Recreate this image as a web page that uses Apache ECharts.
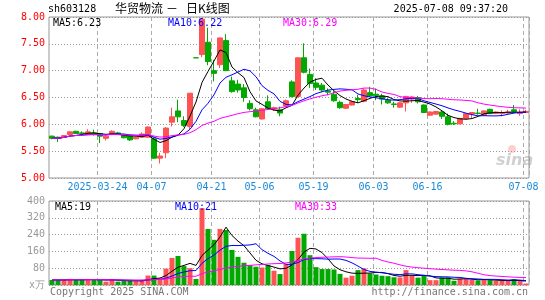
<!DOCTYPE html>
<html>
<head>
<meta charset="UTF-8">
<script src="https://cdn.jsdelivr.net/npm/echarts@6/dist/echarts.min.js"></script>
<style>
html, body { margin: 0; padding: 0; background: #fff; }
#chart { width: 545px; height: 300px; }
</style>
</head>
<body>
<div id="chart"></div>
<script>
// ---- data ----
const dates = [
  '2025-03-12','2025-03-13','2025-03-14','2025-03-17','2025-03-18','2025-03-19','2025-03-20','2025-03-21',
  '2025-03-24','2025-03-25','2025-03-26','2025-03-27','2025-03-28','2025-03-31','2025-04-01','2025-04-02',
  '2025-04-03','2025-04-07','2025-04-08','2025-04-09','2025-04-10','2025-04-11','2025-04-14','2025-04-15',
  '2025-04-16','2025-04-17','2025-04-18','2025-04-21','2025-04-22','2025-04-23','2025-04-24','2025-04-25',
  '2025-04-28','2025-04-29','2025-04-30','2025-05-06','2025-05-07','2025-05-08','2025-05-09','2025-05-12',
  '2025-05-13','2025-05-14','2025-05-15','2025-05-16','2025-05-19','2025-05-20','2025-05-21','2025-05-22',
  '2025-05-23','2025-05-26','2025-05-27','2025-05-28','2025-05-29','2025-05-30','2025-06-03','2025-06-04',
  '2025-06-05','2025-06-06','2025-06-09','2025-06-10','2025-06-11','2025-06-12','2025-06-13','2025-06-16',
  '2025-06-17','2025-06-18','2025-06-19','2025-06-20','2025-06-23','2025-06-24','2025-06-25','2025-06-26',
  '2025-06-27','2025-06-30','2025-07-01','2025-07-02','2025-07-03','2025-07-04','2025-07-07','2025-07-08'
];

const openP = [
  5.78,5.76,5.76,5.81,5.87,5.84,5.81,5.84, 5.83,5.74,5.81,5.84,5.79,5.79,5.73,5.76,
  5.76,5.73,5.37,5.47,6.04,6.25,6.07,5.96, 7.24,7.30,7.53,7.00,7.11,7.56,6.81,6.75,
  6.68,6.39,6.27,6.10,6.42,6.28,6.27,6.34, 6.79,6.52,7.24,6.93,6.77,6.73,6.62,6.56,
  6.41,6.30,6.36,6.48,6.43,6.59,6.56,6.53, 6.45,6.38,6.32,6.40,6.47,6.50,6.36,6.17,
  6.19,6.23,6.14,6.02,6.01,6.11,6.19,6.21, 6.17,6.28,6.20,6.20,6.21,6.27,6.20,6.22
];
const closeP = [
  5.74,5.74,5.79,5.86,5.83,5.83,5.86,5.82, 5.78,5.78,5.87,5.81,5.75,5.71,5.76,5.82,
  5.95,5.37,5.41,5.93,6.14,6.14,5.98,6.58, 7.24,7.96,7.17,6.95,7.61,7.00,6.61,6.64,
  6.50,6.29,6.14,6.29,6.29,6.31,6.21,6.44, 6.52,7.24,6.97,6.76,6.69,6.64,6.60,6.44,
  6.31,6.37,6.42,6.46,6.64,6.53,6.54,6.47, 6.40,6.37,6.40,6.52,6.51,6.42,6.22,6.23,
  6.24,6.15,6.00,6.01,6.11,6.20,6.22,6.20, 6.25,6.20,6.23,6.22,6.23,6.24,6.22,6.24
];
const lowP = [
  5.72,5.67,5.75,5.80,5.82,5.79,5.80,5.79, 5.65,5.70,5.80,5.80,5.74,5.69,5.72,5.75,
  5.75,5.36,5.27,5.37,5.96,6.04,5.95,5.90, 7.24,7.25,7.10,6.80,7.05,7.00,6.59,6.59,
  6.42,6.26,6.13,6.09,6.27,6.25,6.15,6.32, 6.50,6.50,6.95,6.68,6.64,6.60,6.54,6.42,
  6.29,6.29,6.35,6.40,6.41,6.51,6.45,6.37, 6.38,6.31,6.31,6.24,6.40,6.39,6.21,6.16,
  6.18,6.10,5.98,5.99,6.00,6.10,6.12,6.18, 6.16,6.19,6.19,6.15,6.20,6.22,6.16,6.21
];
const highP = [
  5.79,5.77,5.80,5.87,5.88,5.87,5.91,5.90, 5.84,5.79,5.89,5.86,5.80,5.80,5.77,5.85,
  5.96,5.76,5.47,5.95,6.31,6.46,6.15,6.58, 7.24,7.96,7.80,7.20,7.62,7.68,6.89,6.83,
  6.75,6.45,6.31,6.30,6.54,6.33,6.33,6.46, 6.82,7.25,7.51,7.04,6.86,6.77,6.67,6.62,
  6.44,6.38,6.44,6.55,6.67,6.70,6.67,6.57, 6.50,6.42,6.41,6.53,6.53,6.53,6.37,6.24,
  6.25,6.26,6.20,6.06,6.12,6.21,6.23,6.29, 6.26,6.29,6.24,6.26,6.27,6.36,6.28,6.27
];
// 成交量 (万手)
const volume = [
  24,24,24,29,24,24,29,24, 27,16,29,16,19,19,19,24,
  45,45,32,78,129,138,90,80, 29,366,267,215,267,262,167,134,
  106,94,87,83,94,68,52,100, 162,225,244,142,85,76,76,74,
  53,35,44,71,79,55,50,44, 42,37,36,71,44,35,44,23,
  23,36,36,20,29,29,25,22, 25,23,20,20,20,28,20,7
];

const labelDates = ['2025-03-24','2025-04-07','2025-04-21','2025-05-06','2025-05-19','2025-06-03','2025-06-16','2025-07-08'];
const priceTicks = { min: 5, max: 8, step: 0.5 };
const volTicks = { min: 0, max: 400, step: 80 };

const maPriceText = ['MA5:6.23', 'MA10:6.22', 'MA30:6.29'];
const maVolText = ['MA5:19', 'MA10:21', 'MA30:33'];

// ---- helpers ----
const RED = '#ff5252';
const GREEN = '#00a800';
const MONO = '"DejaVu Sans Mono", monospace';

function movingAvg(arr, n) {
  return arr.map((_, i) => {
    const s = Math.max(0, i - n + 1);
    let sum = 0;
    for (let j = s; j <= i; j++) sum += arr[j];
    return +(sum / (i - s + 1)).toFixed(3);
  });
}

function isUp(i) {
  if (closeP[i] !== openP[i]) return closeP[i] > openP[i];
  return false;
}

const labelIdx = labelDates.map(d => dates.indexOf(d));

const kData = dates.map((d, i) => {
  const item = { value: [openP[i], closeP[i], lowP[i], highP[i]] };
  if (openP[i] === closeP[i]) {
    item.itemStyle = { color: GREEN, color0: GREEN, borderColor: GREEN, borderColor0: GREEN };
  }
  return item;
});

const volData = volume.map((v, i) => ({
  value: v,
  itemStyle: { color: isUp(i) ? RED : GREEN }
}));

const maLine = (name, data, color, xi, yi) => ({
  name, type: 'line', data, xAxisIndex: xi, yAxisIndex: yi,
  symbol: 'none', smooth: false, silent: true,
  lineStyle: { width: 1, color }
});

const xAxisBase = (gi, showLabel) => ({
  type: 'category', gridIndex: gi, data: dates, boundaryGap: true,
  axisLine: { show: false }, axisTick: { show: false },
  axisLabel: {
    show: showLabel,
    interval: (i) => labelIdx.includes(i),
    formatter: (v) => v === labelDates[0] ? v : v.slice(5),
    color: '#1a8ad8', fontFamily: MONO, fontSize: 10, margin: 4,
    padding: [0, 5, 0, 0]
  },
  splitLine: {
    show: true,
    interval: (i) => labelIdx.includes(i),
    lineStyle: { color: '#aaaaaa', type: [4, 3], width: 1 }
  }
});

const chart = echarts.init(document.getElementById('chart'), null, { renderer: 'canvas' });

chart.setOption({
  animation: false,
  backgroundColor: '#ffffff',
  grid: [
    { left: 49, right: 16, top: 17, height: 161, show: true, borderColor: '#999999', borderWidth: 1 },
    { left: 49, right: 16, top: 201, height: 84, show: true, borderColor: '#999999', borderWidth: 1 }
  ],
  xAxis: [xAxisBase(0, true), xAxisBase(1, false)],
  yAxis: [
    {
      type: 'value', gridIndex: 0, scale: true,
      min: priceTicks.min, max: priceTicks.max, interval: priceTicks.step,
      axisLine: { show: false }, axisTick: { show: false },
      axisLabel: { color: '#ff0000', fontFamily: MONO, fontSize: 10, margin: 4,
        formatter: (v) => v.toFixed(2) },
      splitLine: { lineStyle: { color: '#999999', type: [1, 2] } }
    },
    {
      type: 'value', gridIndex: 1,
      min: volTicks.min, max: volTicks.max, interval: volTicks.step,
      axisLine: { show: false }, axisTick: { show: false },
      axisLabel: { color: '#999999', fontFamily: MONO, fontSize: 10, margin: 4,
        formatter: (v) => v === 0 ? 'x万' : String(v) },
      splitLine: { lineStyle: { color: '#999999', type: [1, 2] } }
    }
  ],
  series: [
    {
      name: 'K', type: 'candlestick', data: kData, xAxisIndex: 0, yAxisIndex: 0,
      barWidth: 5,
      itemStyle: { color: RED, color0: GREEN, borderColor: RED, borderColor0: GREEN, borderWidth: 1 }
    },
    maLine('MA5', movingAvg(closeP, 5), '#000000', 0, 0),
    maLine('MA10', movingAvg(closeP, 10), '#0000ff', 0, 0),
    maLine('MA30', movingAvg(closeP, 30), '#ff00ff', 0, 0),
    {
      name: 'VOL', type: 'bar', data: volData, xAxisIndex: 1, yAxisIndex: 1,
      barWidth: 5
    },
    maLine('VMA5', movingAvg(volume, 5), '#000000', 1, 1),
    maLine('VMA10', movingAvg(volume, 10), '#0000ff', 1, 1),
    maLine('VMA30', movingAvg(volume, 30), '#ff00ff', 1, 1)
  ],
  graphic: [
    { type: 'text', left: 48, top: 4, style: { text: 'sh603128', font: '10px ' + MONO, fill: '#000' } },
    { type: 'text', left: 115, top: 2, style: { text: '华贸物流', font: '12px "Noto Sans CJK SC"', fill: '#000' } },
    { type: 'text', left: 166, top: 2, style: { text: '－', font: '12px "Noto Sans CJK SC"', fill: '#000' } },
    { type: 'text', left: 186, top: 2, style: { text: '日K线图', font: '12px "Noto Sans CJK SC"', fill: '#000' } },
    { type: 'text', right: 37, top: 4, style: { text: '2025-07-08 09:37:20', font: '10px ' + MONO, fill: '#000' } },

    { type: 'text', left: 53, top: 18, z: 100, style: { text: maPriceText[0], font: '10px ' + MONO, fill: '#000000' } },
    { type: 'text', left: 168, top: 18, z: 100, style: { text: maPriceText[1], font: '10px ' + MONO, fill: '#0000ff' } },
    { type: 'text', left: 283, top: 18, z: 100, style: { text: maPriceText[2], font: '10px ' + MONO, fill: '#ff00ff' } },

    { type: 'text', left: 55, top: 202, z: 100, style: { text: maVolText[0], font: '10px ' + MONO, fill: '#000000' } },
    { type: 'text', left: 175, top: 202, z: 100, style: { text: maVolText[1], font: '10px ' + MONO, fill: '#0000ff' } },
    { type: 'text', left: 295, top: 202, z: 100, style: { text: maVolText[2], font: '10px ' + MONO, fill: '#ff00ff' } },

    { type: 'text', left: 496, top: 153, z: 1, style: { text: 'sina', font: 'italic bold 16px "DejaVu Sans"', fill: 'rgba(150,150,150,0.45)' } },
    { type: 'circle', left: 508, top: 145, z: 1, shape: { r: 4 }, style: { fill: 'rgba(240,120,120,0.35)' } },

    { type: 'text', left: 50, top: 287, style: { text: 'Copyright 2025 SINA.COM', font: '10px ' + MONO, fill: '#777' } },
    { type: 'text', right: 17, top: 287, style: { text: 'http://finance.sina.com.cn', font: '10px ' + MONO, fill: '#777' } }
  ]
});
</script>
</body>
</html>
